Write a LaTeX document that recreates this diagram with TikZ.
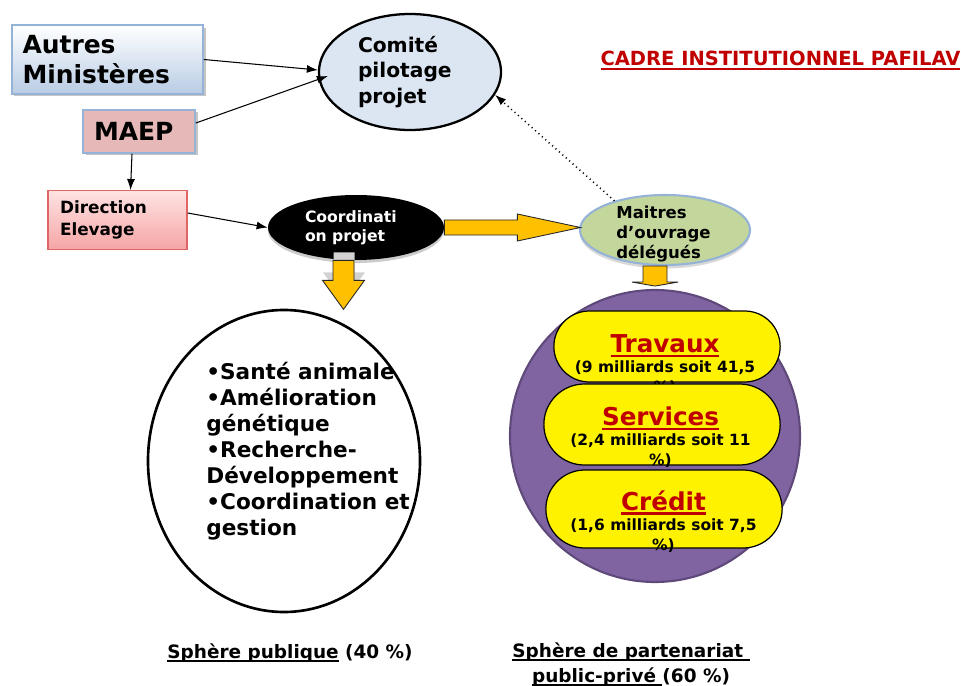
\documentclass[tikz,border=0pt]{standalone}
\usepackage{fontspec}
\setmainfont{DejaVu Sans}
\usetikzlibrary{shapes.geometric,shapes.misc,shadows,arrows.meta}
\newsavebox{\soulbox}
\newcommand{\souligne}[1]{\sbox{\soulbox}{#1}\rlap{\rule[-0.2em]{\wd\soulbox}{0.1em}}\usebox{\soulbox}}
\definecolor{boxblue}{HTML}{B8CCE4}
\definecolor{boxedge}{HTML}{95B3D7}
\definecolor{maeppink}{HTML}{E6B9B8}
\definecolor{dirtop}{HTML}{FFE3E3}
\definecolor{dirbottom}{HTML}{F5A5A5}
\definecolor{diredge}{HTML}{E06666}
\definecolor{comitefill}{HTML}{DCE6F2}
\definecolor{maitresfill}{HTML}{C3D69B}
\definecolor{arrowyellow}{HTML}{FFC000}
\definecolor{ppppurple}{HTML}{8064A2}
\definecolor{pppedge}{HTML}{5F497A}
\definecolor{titlered}{HTML}{C00000}
\tikzset{
  boxnode/.style={rectangle, inner sep=0.2cm, align=left},
  bulle/.style={ellipse, inner sep=1pt, align=left},
  pill/.style={rounded rectangle, draw=black, line width=0.7pt, fill=yellow},
  pilltext/.style={anchor=north, inner sep=0pt, align=center, font=\fontsize{8.8}{11.4}\selectfont\bfseries},
  yarrow/.style={fill=arrowyellow, draw=black!85, line width=0.5pt},
  thinarrow/.style={->, line width=0.6pt}
}
\begin{document}
\begin{tikzpicture}[>={Latex[length=2.2mm,width=1.6mm]}]
\useasboundingbox (0,0) rectangle (19.26,-13.72);
% ministeres
\node[boxnode, draw=boxedge, line width=1pt, top color=white, bottom color=boxblue,
  minimum width=3.82cm, minimum height=1.3cm, text width=3.4cm,
  font=\fontsize{14.2}{17}\selectfont\bfseries,
  drop shadow={shadow xshift=0.05cm, shadow yshift=-0.05cm, fill=black!45}] (autres) at (2.15,-1.19) {Autres\\Ministères};
\node[boxnode, draw=boxedge, line width=1pt, fill=maeppink,
  minimum width=2.24cm, minimum height=0.86cm, text width=1.8cm,
  font=\fontsize{14.2}{17}\selectfont\bfseries,
  drop shadow={shadow xshift=0.05cm, shadow yshift=-0.05cm, fill=black!45}] (maep) at (2.78,-2.63) {MAEP};
\node[boxnode, draw=diredge, line width=0.8pt, top color=dirtop, bottom color=dirbottom,
  minimum width=2.78cm, minimum height=1.12cm, text width=2.3cm,
  font=\fontsize{9.6}{12.5}\selectfont\bfseries] (direction) at (2.35,-4.40) {Direction\\Elevage};
% comite et coordination
\node[bulle, draw=black, line width=1.3pt, fill=comitefill,
  minimum width=3.64cm, minimum height=2.32cm, text width=2.08cm,
  font=\fontsize{11.5}{14.5}\selectfont\bfseries] (comite) at (8.20,-1.44) {Comité\\pilotage\\projet};
\node[bulle, fill=black, text=white,
  minimum width=3.52cm, minimum height=1.3cm, text width=2.04cm,
  font=\fontsize{8.9}{11}\selectfont\bfseries,
  drop shadow={shadow xshift=0cm, shadow yshift=-0.06cm, fill=black!40}] (coord) at (7.12,-4.55) {Coordinati\\on projet};
\node[ellipse, draw=boxedge, line width=1.2pt, fill=maitresfill,
  minimum width=3.4cm, minimum height=1.4cm,
  drop shadow={shadow xshift=0cm, shadow yshift=-0.07cm, fill=black!30}] (maitres) at (13.30,-4.60) {};
\node[anchor=north west, inner sep=0pt, align=left, font=\fontsize{9.4}{11.4}\selectfont\bfseries] (maitrestext) at (12.32,-4.11) {Maitres\\d’ouvrage\\délégués};
% sphere publique
\node[ellipse, draw=black, line width=1.5pt, fill=white, minimum width=5.44cm, minimum height=6.04cm] (publique) at (5.68,-9.22) {};
\node[anchor=north west, inner sep=0pt, align=left, font=\fontsize{12.3}{14.8}\selectfont\bfseries] (publiquetext) at (4.12,-7.24)
  {•Santé animale\\•Amélioration\\génétique\\•Recherche-\\Développement\\•Coordination et\\gestion};
% sphere partenariat
\node[ellipse, draw=pppedge, line width=1.2pt, fill=ppppurple, minimum width=5.8cm, minimum height=5.84cm] (partenariat) at (13.10,-8.72) {};
\node[pill, minimum width=4.76cm, minimum height=1.42cm] (travaux) at (13.34,-6.93) {};
\node[pilltext] (travauxtext) at (13.30,-6.68)
  {{\fontsize{14}{14}\selectfont\color{titlered}\souligne{Travaux}}\\(9 milliards soit 41,5\\\%)};
\node[pill, minimum width=4.96cm, minimum height=1.62cm] (services) at (13.24,-8.49) {};
\node[pilltext] (servicestext) at (13.21,-8.12)
  {{\fontsize{14}{14}\selectfont\color{titlered}\souligne{Services}}\\(2,4 milliards soit 11\\\%)};
\node[pill, minimum width=4.96cm, minimum height=1.56cm] (credit) at (13.28,-10.18) {};
\node[pilltext] (credittext) at (13.27,-9.80)
  {{\fontsize{14}{14}\selectfont\color{titlered}\souligne{Crédit}}\\(1,6 milliards soit 7,5\\\%)};
% fleches
\draw[thinarrow] (autres.east) -- ([yshift=0.04cm]comite.west);
\draw[thinarrow] ([yshift=0.17cm]maep.east) -- ([xshift=0.2cm,yshift=-0.08cm]comite.west);
\draw[thinarrow] ([xshift=-0.14cm]maep.south) -- ([xshift=0.26cm]direction.north);
\draw[thinarrow] ([yshift=0.14cm]direction.east) -- (coord.west);
\draw[thinarrow, dotted, line width=0.9pt] (maitres.150) -- (comite.-15);
% fleches jaunes
\filldraw[yarrow] (coord.east) ++(0,0.15) -- ++(1.46,0) -- ++(0,0.12) -- ++(1.26,-0.27) -- ++(-1.26,-0.27) -- ++(0,0.12) -- ++(-1.46,0) -- cycle;
\fill[gray!35] ([xshift=-0.45cm,yshift=0.16cm]coord.south) -- ++(0,-0.4) -- ++(-0.21,0) -- ++(0.42,-0.58) -- ++(0.42,0.58) -- ++(-0.21,0) -- ++(0,0.4) -- cycle;
\filldraw[yarrow] ([xshift=-0.46cm]coord.south) -- ++(0,-0.4) -- ++(-0.21,0) -- ++(0.42,-0.58) -- ++(0.42,0.58) -- ++(-0.21,0) -- ++(0,0.4) -- cycle;
\filldraw[yarrow] ([xshift=-0.44cm]maitres.south) -- ++(0,-0.32) -- ++(-0.22,0) -- ++(0.46,-0.08) -- ++(0.46,0.08) -- ++(-0.22,0) -- ++(0,0.32) -- cycle;
% titres
\node[anchor=base, inner sep=0pt, text=titlered, font=\fontsize{11.1}{13}\selectfont\bfseries] (titre) at (15.61,-1.32) {\souligne{CADRE INSTITUTIONNEL PAFILAV}};
\node[anchor=base, inner sep=0pt, font=\fontsize{10.5}{14.2}\selectfont\bfseries] (spherepub) at (5.80,-13.16) {\souligne{Sphère publique} (40~\%)};
\node[anchor=north, inner sep=0pt, align=center, font=\fontsize{10.5}{14.2}\selectfont\bfseries] (sphereppp) at (12.62,-12.84)
  {\souligne{Sphère de partenariat\ }\\\souligne{public-privé\ }(60~\%)};
\end{tikzpicture}
\end{document}
